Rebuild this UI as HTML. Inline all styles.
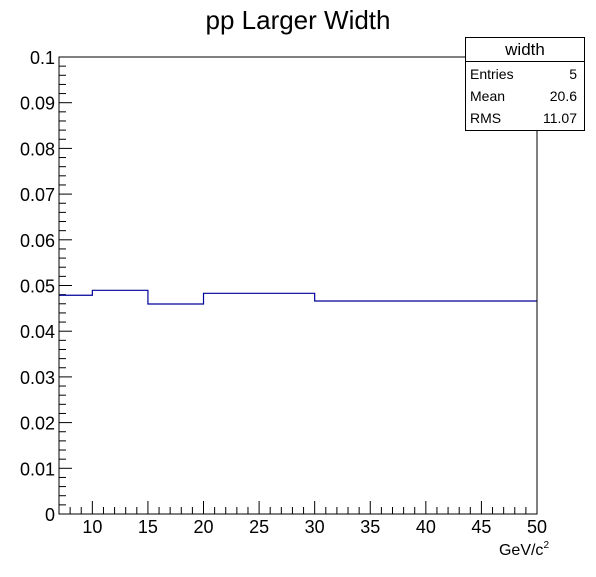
<!DOCTYPE html>
<html><head><meta charset="utf-8"><style>
body{margin:0;background:#fff;}
svg text{font-family:"Liberation Sans",Arial,sans-serif;}
</style></head><body>
<svg id="c" width="596" height="572" xmlns="http://www.w3.org/2000/svg">
<rect width="596" height="572" fill="#fff"/>
<text x="298" y="29" font-size="26" text-anchor="middle">pp Larger Width</text>
<g id="axes"></g>
<g id="hist"></g>
<rect x="59" y="57" width="478" height="457" fill="none" stroke="#000" stroke-width="1"/>
<g>
<rect x="465.5" y="37.5" width="119" height="93" fill="#fff" stroke="#000"/>
<line x1="465.5" y1="61.5" x2="584.5" y2="61.5" stroke="#000"/>
<text x="525" y="55" font-size="17" text-anchor="middle">width</text>
<text x="470" y="79" font-size="14">Entries</text>
<text x="577" y="79" font-size="14" text-anchor="end">5</text>
<text x="470" y="101" font-size="14">Mean</text>
<text x="577" y="101" font-size="14" text-anchor="end">20.6</text>
<text x="470" y="123" font-size="14">RMS</text>
<text x="577" y="123" font-size="14" text-anchor="end">11.07</text>
</g>
<text x="549" y="555" font-size="16" text-anchor="end">GeV/c<tspan font-size="10" dy="-7">2</tspan></text>
</svg>
<script>
const binEdges=[7,10,15,20,30,50];
const binValues=[0.04786,0.04895,0.04595,0.04829,0.04661];
const xTickLabels=[10,15,20,25,30,35,40,45,50];
const yTickLabels=["0","0.01","0.02","0.03","0.04","0.05","0.06","0.07","0.08","0.09","0.1"];
const X0=59,X1=537,Y0=514,Y1=57,xmin=7,xmax=50,ymin=0,ymax=0.1;
const NS="http://www.w3.org/2000/svg";
function sx(v){return X0+(v-xmin)/(xmax-xmin)*(X1-X0);}
function sy(v){return Y0-(v-ymin)/(ymax-ymin)*(Y0-Y1);}
function mk(tag,attrs,parent){const e=document.createElementNS(NS,tag);for(const k in attrs)e.setAttribute(k,attrs[k]);parent.appendChild(e);return e;}
const axes=document.getElementById('axes');
for(let v=8;v<=50;v++){
  const major=v%5===0;const x=sx(v);
  const t=mk('line',{x1:x,x2:x,y1:Y0,y2:Y0-(major?13:7),stroke:'#000'},axes);
  
  
}
xTickLabels.forEach(v=>{
  const t=mk('text',{x:sx(v),y:Y0+19,'font-size':18,'text-anchor':'middle'},axes);
  t.textContent=v;
  
  
});
for(let i=0;i<=50;i++){
  const v=i*0.002;const major=i%5===0;const y=sy(v);
  const t=mk('line',{x1:X0,x2:X0+(major?13:7),y1:y,y2:y,stroke:'#000'},axes);
  
  
}
yTickLabels.forEach((s,i)=>{
  const t=mk('text',{x:X0-4,y:sy(i*0.01)+7,'font-size':18,'text-anchor':'end'},axes);
  t.textContent=s;
  
  
});
const hist=document.getElementById('hist');
let d='';
binValues.forEach((v,i)=>{
  const xa=sx(binEdges[i]),xb=sx(binEdges[i+1]),y=sy(v);
  d+=(i===0?'M':'L')+xa+' '+y+' L'+xb+' '+y+' ';
});
const p=mk('path',{d:d,fill:'none',stroke:'#000099','stroke-width':1.2},hist);


</script>
</body></html>
